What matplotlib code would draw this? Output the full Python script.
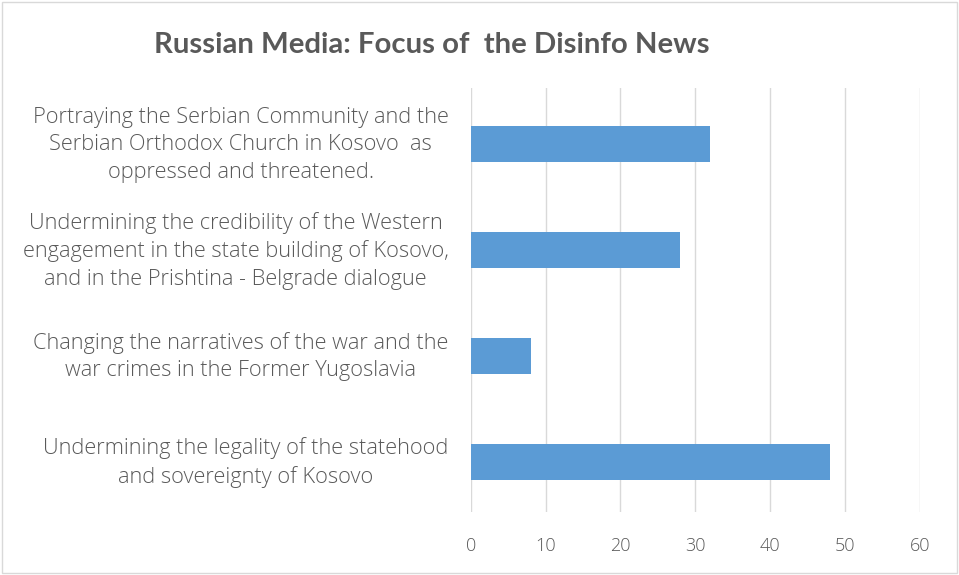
import matplotlib.pyplot as plt
from matplotlib.patches import Rectangle
from matplotlib.transforms import ScaledTranslation

# focus categories, listed bottom to top as drawn
categories = [
    "Undermining the legality of the statehood\nand sovereignty of Kosovo",
    "Changing the narratives of the war and the\nwar crimes in the Former Yugoslavia",
    "Undermining the credibility of the Western\nengagement in the state building of Kosovo,\nand in the Prishtina - Belgrade dialogue",
    "Portraying the Serbian Community and the\nSerbian Orthodox Church in Kosovo  as\noppressed and threatened.",
]
counts = [48, 8, 28, 32]
xticks = [0, 10, 20, 30, 40, 50, 60]

TEXT = "#595959"
BAR = "#5B9BD5"
GRID = "#D9D9D9"

plt.rcParams["font.family"] = ["Open Sans", "DejaVu Sans"]

fig = plt.figure(figsize=(9.59, 5.75), dpi=100)
ax = fig.add_axes([0.491, 0.110, 0.468, 0.737])

ax.barh(range(len(categories)), counts, height=0.34, color=BAR, zorder=3)

ax.set_xlim(0, 60)
ax.set_ylim(-0.47, len(categories) - 0.47)
ax.set_xticks(xticks)
ax.set_xticklabels([str(t) for t in xticks], color=TEXT, fontsize=13, fontweight="light")
ax.set_yticks(range(len(categories)))
ax.set_yticklabels(categories, color=TEXT, fontsize=15.7, multialignment="center",
                   linespacing=1.4, fontweight="light")
ax.tick_params(axis="y", length=0, pad=16)
ax.tick_params(axis="x", length=0, pad=18)
ax.xaxis.grid(True, color=GRID, linewidth=1, zorder=0)
for s in ax.spines.values():
    s.set_visible(False)

# category labels sit a little above the bar centres
lift = ScaledTranslation(0, 5 / 100, fig.dpi_scale_trans)
for lbl in ax.get_yticklabels():
    lbl.set_transform(lbl.get_transform() + lift)

fig.text(0.45, 0.921, "Russian Media: Focus of  the Disinfo News", ha="center", va="center",
         fontsize=21.2, color=TEXT, fontweight="bold", family=["Lato", "DejaVu Sans"])

# light frame around the chart area
fig.patches.append(Rectangle((0.002, 0.004), 0.996, 0.992, transform=fig.transFigure,
                             fill=False, edgecolor="#D9D9D9", linewidth=1))

fig.savefig("out.png", dpi=100)
